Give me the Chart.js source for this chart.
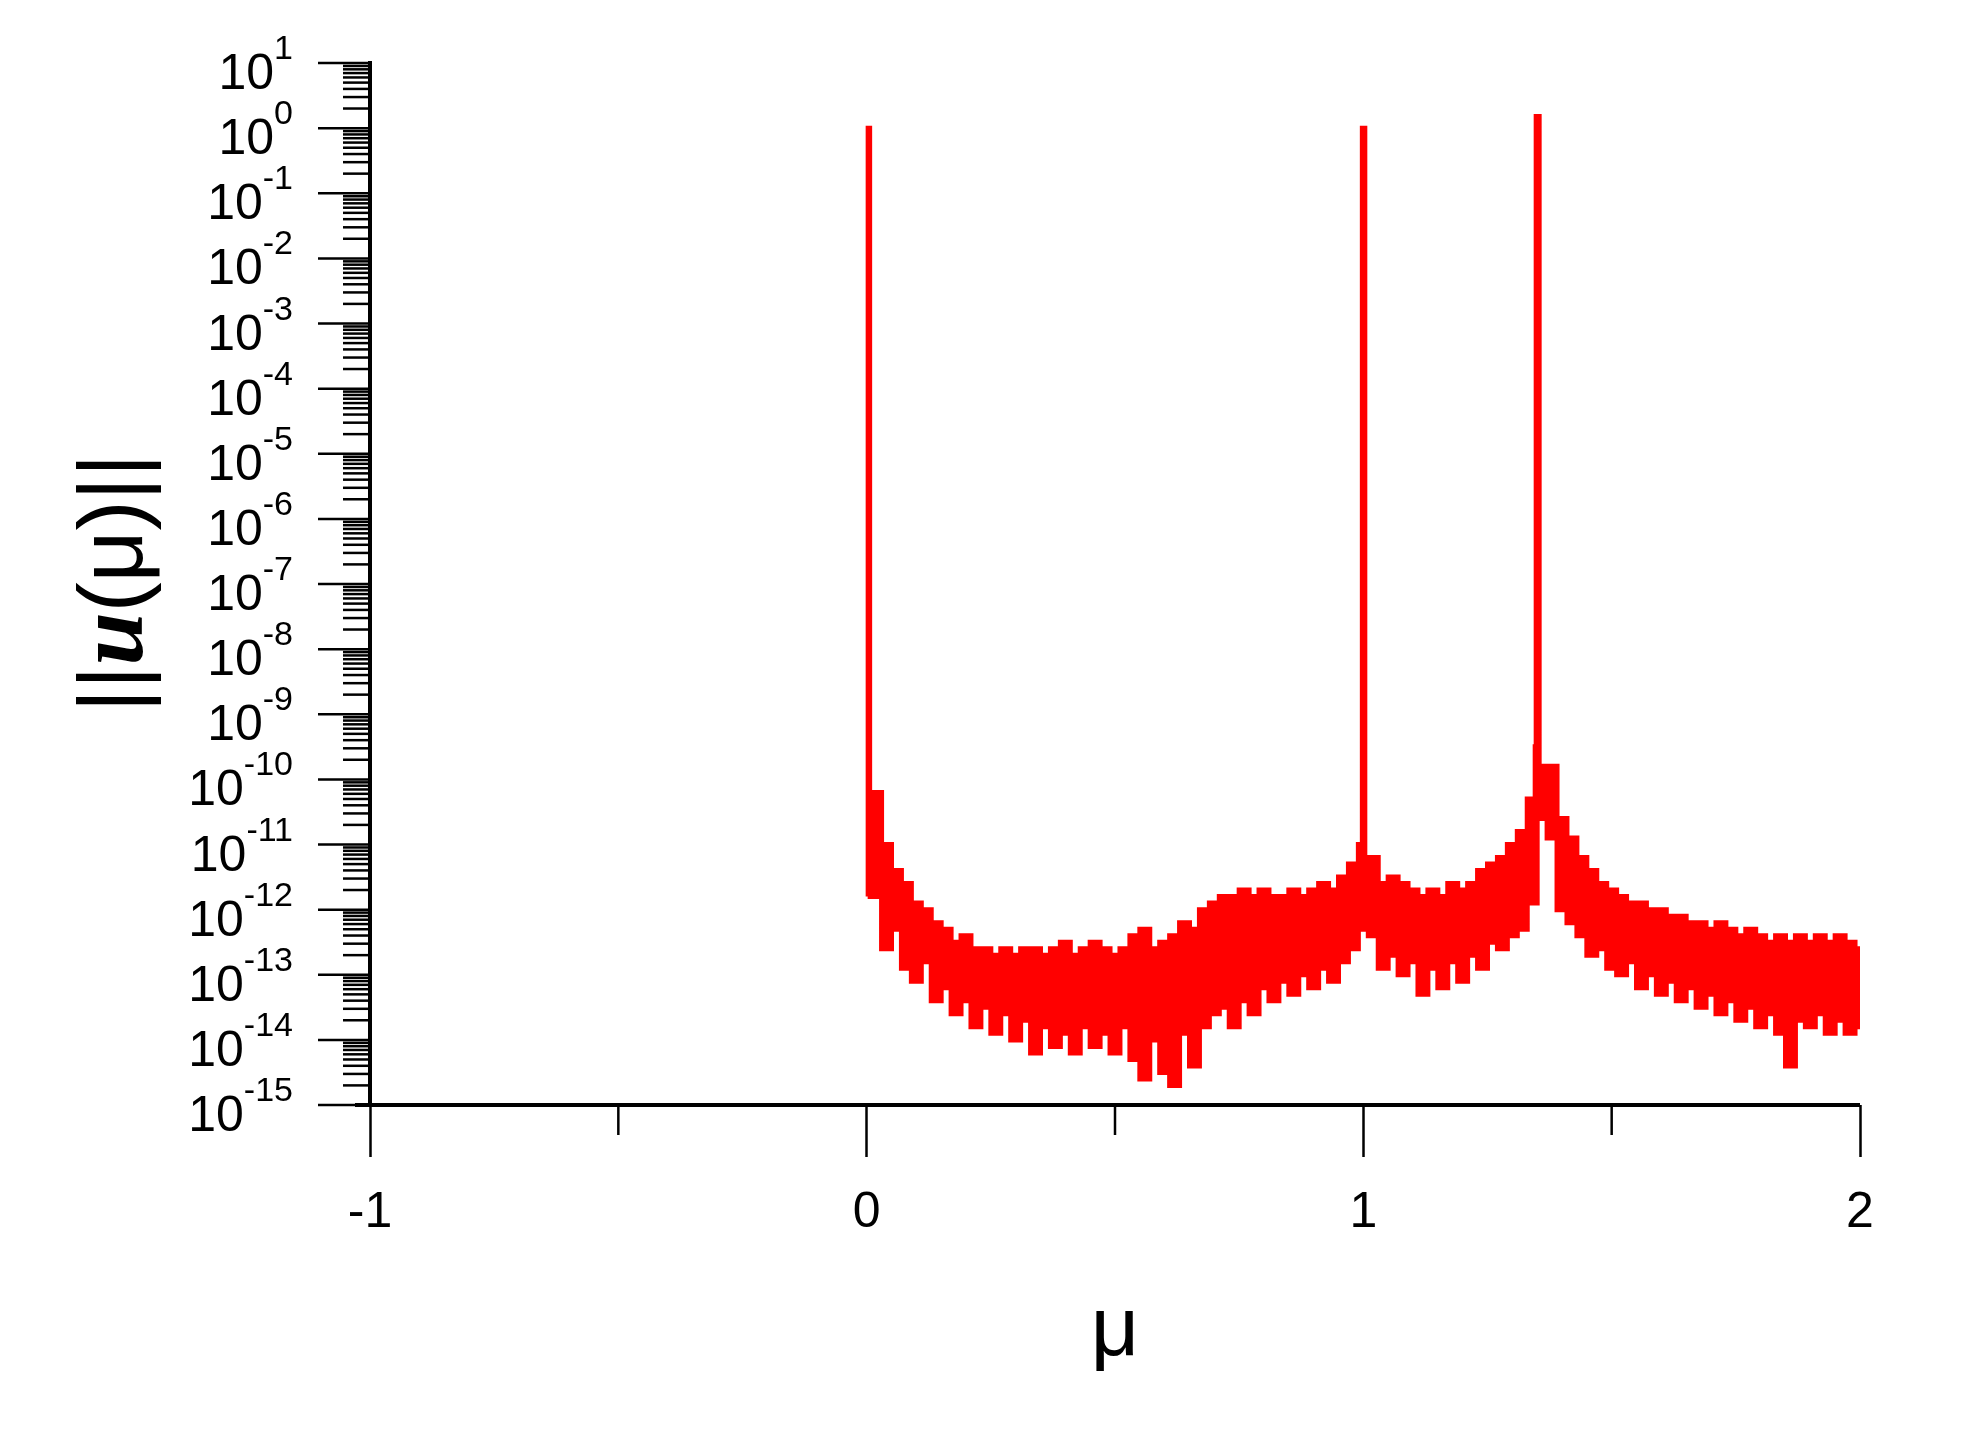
<!DOCTYPE html>
<html><head><meta charset="utf-8">
<script src="https://cdn.jsdelivr.net/npm/chart.js@4.4.1/dist/chart.umd.min.js"></script>
<style>html,body{margin:0;padding:0;background:#fff}#w{width:1964px;height:1432px}</style>
</head><body><div id="w"><canvas id="c"></canvas></div>
<script>
// noise band: x grid, upper and lower envelope exponents (log10)
const gridStart = 0.01, gridStep = 0.02;
const upperExp = [-10.2,-11.0,-11.4,-11.6,-11.9,-12.0,-12.2,-12.3,-12.5,-12.4,-12.6,-12.6,-12.7,-12.6,-12.7,-12.6,-12.6,-12.7,-12.6,-12.5,
-12.7,-12.6,-12.5,-12.6,-12.7,-12.6,-12.4,-12.3,-12.6,-12.5,-12.4,-12.2,-12.3,-12.0,-11.9,-11.8,-11.8,-11.7,-11.8,-11.7,
-11.8,-11.8,-11.7,-11.8,-11.7,-11.6,-11.7,-11.5,-11.3,-11.0,-11.2,-11.6,-11.5,-11.6,-11.7,-11.8,-11.7,-11.8,-11.6,-11.7,
-11.6,-11.4,-11.3,-11.2,-11.0,-10.8,-10.3,-9.3,-9.8,-10.6,-10.9,-11.2,-11.4,-11.6,-11.7,-11.8,-11.9,-11.9,-12.0,-12.0,
-12.1,-12.1,-12.2,-12.2,-12.3,-12.2,-12.3,-12.4,-12.3,-12.4,-12.5,-12.4,-12.5,-12.4,-12.5,-12.4,-12.5,-12.4,-12.5,-12.6];
const lowerExp = [-11.8,-12.6,-12.3,-12.9,-13.1,-12.8,-13.4,-13.2,-13.6,-13.4,-13.8,-13.5,-13.9,-13.6,-14.0,-13.7,-14.2,-13.8,-14.1,-13.9,
-14.2,-13.8,-14.1,-13.9,-14.2,-13.8,-14.3,-14.6,-14.0,-14.5,-14.7,-13.9,-14.4,-13.8,-13.6,-13.5,-13.8,-13.4,-13.6,-13.2,
-13.4,-13.1,-13.3,-13.0,-13.2,-12.9,-13.1,-12.8,-12.6,-12.3,-12.4,-12.9,-12.7,-13.0,-12.8,-13.3,-12.9,-13.2,-12.8,-13.1,
-12.7,-12.9,-12.5,-12.6,-12.4,-12.3,-11.9,-10.6,-10.9,-12.0,-12.2,-12.4,-12.7,-12.6,-12.9,-13.0,-12.8,-13.2,-13.0,-13.3,
-13.1,-13.4,-13.2,-13.5,-13.3,-13.6,-13.4,-13.7,-13.5,-13.8,-13.6,-13.9,-14.4,-13.7,-13.8,-13.6,-13.9,-13.7,-13.9,-13.8];
// resonance spikes
const peakX   = [0.002, 0.003, 0.005, 0.006, 0.997, 0.998, 1.002, 1.003, 1.346, 1.348, 1.352, 1.354];
const peakExp = [-11.8, 0.0,   0.0,  -10.5, -11.2, 0.0,   0.0,  -11.3, -9.5,  0.18,  0.18,  -9.8];
const yDecades = [1,0,-1,-2,-3,-4,-5,-6,-7,-8,-9,-10,-11,-12,-13,-14,-15];
const xTickLabels = {'-1':'-1','0':'0','1':'1','2':'2'};

const upperPts = [], lowerPts = [];
for (let i = 0; i < upperExp.length; i++) {
  const x = gridStart + i*gridStep;
  upperPts.push({x: x, y: Math.pow(10, upperExp[i])});
  lowerPts.push({x: x, y: Math.pow(10, lowerExp[i])});
}
for (let i = 0; i < peakX.length; i++) upperPts.push({x: peakX[i], y: Math.pow(10, peakExp[i])});
lowerPts.unshift({x: 0.003, y: Math.pow(10, -11.8)});
upperPts.sort((a,b)=>a.x-b.x);
upperPts.push({x: 2.0, y: Math.pow(10, -12.6)});
lowerPts.push({x: 2.0, y: Math.pow(10, -13.8)});

const FONT = '"Liberation Sans", Arial, sans-serif';
const deco = {
  id:'deco',
  afterDraw(ch){
    const c = ch.ctx, ys = ch.scales.y, xs = ch.scales.x;
    const ax = xs.left, ay = ys.bottom;
    c.save();
    c.strokeStyle = '#000'; c.fillStyle = '#000';
    c.lineWidth = 2.5;
    yDecades.forEach(e => {
      const py = ys.getPixelForValue(Math.pow(10, e));
      c.beginPath(); c.moveTo(ax-52, py); c.lineTo(ax, py); c.stroke();
      if (e > -15) for (let m = 2; m <= 9; m++) {
        const q = ys.getPixelForValue(m*Math.pow(10, e-1));
        c.beginPath(); c.moveTo(ax-27, q); c.lineTo(ax, q); c.stroke();
      }
      const sup = String(e);
      c.font = '34px ' + FONT;
      const sw = c.measureText(sup).width;
      c.font = '50px ' + FONT;
      const bw = c.measureText('10').width;
      const right = ax - 77;
      c.textBaseline = 'alphabetic'; c.textAlign = 'left';
      c.fillText('10', right - sw - bw, py + 26);
      c.font = '34px ' + FONT;
      c.fillText(sup, right - sw, py - 4);
    });
    [-0.5, 0.5, 1.5].forEach(v => {
      const px = xs.getPixelForValue(v);
      c.beginPath(); c.moveTo(px, ay); c.lineTo(px, ay+30); c.stroke();
    });
    c.lineWidth = 4;
    c.beginPath(); c.moveTo(ax, ys.top-2); c.lineTo(ax, ay); c.lineTo(xs.right, ay); c.stroke();
    c.beginPath(); c.moveTo(ax-15, ay); c.lineTo(ax, ay); c.stroke();
    c.font = '84px ' + FONT; c.textAlign = 'center'; c.textBaseline = 'middle';
    c.fillText('μ', xs.getPixelForValue(0.5), 1332);
    c.translate(117, 583); c.rotate(-Math.PI/2);
    const parts = [['||', '90px '+FONT], ['u', 'bold italic 96px "Liberation Serif", serif'], ['(μ)||', '90px '+FONT]];
    let tw = 0; parts.forEach(p => { c.font = p[1]; tw += c.measureText(p[0]).width; });
    let cx = -tw/2; c.textAlign = 'left'; c.textBaseline = 'middle';
    parts.forEach(p => { c.font = p[1]; c.fillText(p[0], cx, 0); cx += c.measureText(p[0]).width; });
    c.restore();
  }
};

new Chart(document.getElementById('c'), {
  type:'line',
  data:{datasets:[
    {data:upperPts, borderColor:'#ff0000', borderWidth:5, pointRadius:0, stepped:true, fill:false},
    {data:lowerPts, borderColor:'#ff0000', backgroundColor:'#ff0000', borderWidth:5, pointRadius:0, stepped:true, fill:'-1'}
  ]},
  options:{
    responsive:true, maintainAspectRatio:false, animation:false,
    layout:{padding:{left:0, top:63, right:104, bottom:0}},
    plugins:{legend:{display:false}, tooltip:{enabled:false}},
    scales:{
      x:{type:'linear', min:-1, max:2,
        ticks:{stepSize:0.5, padding:26, color:'#000', font:{size:50, family:FONT},
          callback:v => xTickLabels[String(v)] ?? ''},
        grid:{drawOnChartArea:false, drawTicks:true, tickLength:52,
          tickColor:ctx => Number.isInteger(ctx.tick.value) ? '#000' : 'rgba(0,0,0,0)', tickWidth:2.5},
        border:{display:false},
        afterFit:s => { s.height = 327; }
      },
      y:{type:'logarithmic', min:1e-15, max:10,
        afterBuildTicks:s => { s.ticks = yDecades.map(e => ({value:Math.pow(10,e)})); },
        ticks:{display:false}, grid:{display:false}, border:{display:false},
        afterFit:s => { s.width = 370; }
      }
    }
  },
  plugins:[deco]
});
</script></body></html>
